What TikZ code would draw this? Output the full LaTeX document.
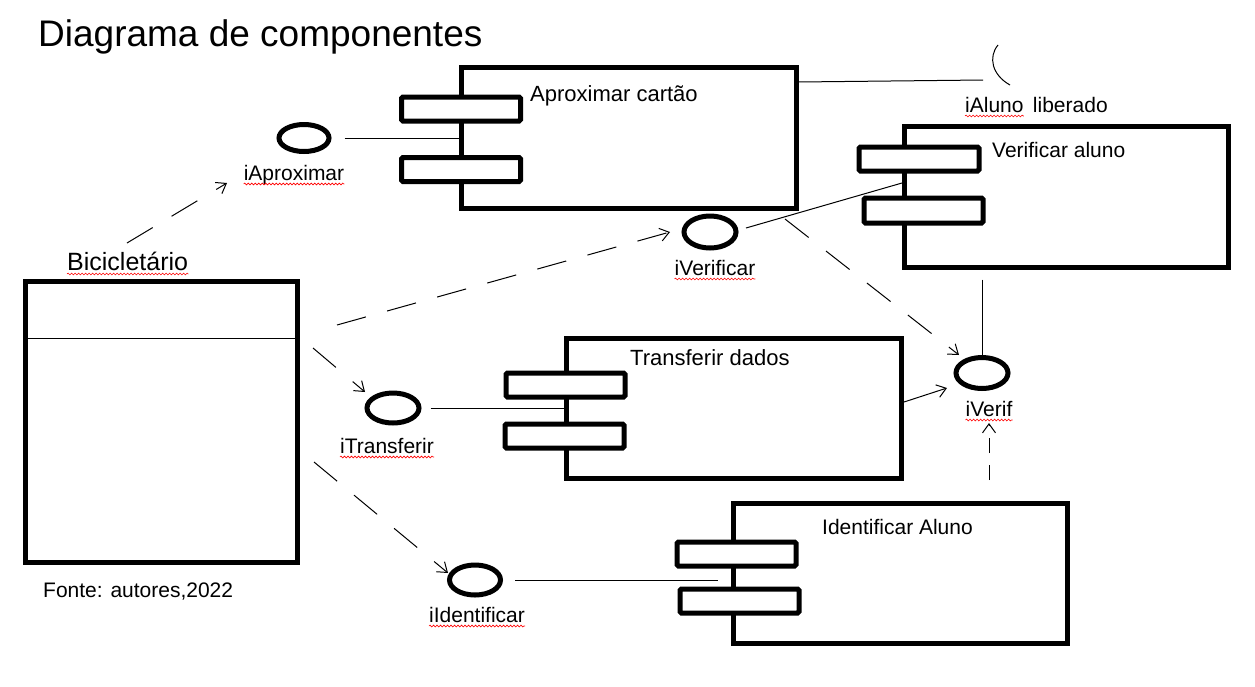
\documentclass[tikz,border=0pt]{standalone}
\usepackage{fontspec}
\setmainfont{Liberation Sans}
\usetikzlibrary{shapes.geometric,arrows.meta,decorations.pathmorphing}
\begin{document}
\begin{tikzpicture}[x=1pt,y=-1pt,
  compbox/.style={draw, line width=5pt, rectangle, inner sep=0pt},
  port/.style={draw, line width=5pt, rectangle, rounded corners=1.5pt, fill=white, inner sep=0pt, minimum width=119pt, minimum height=24pt},
  iface/.style={draw, line width=5pt, ellipse, inner sep=0pt},
  lbl/.style={inner sep=0pt, anchor=base, font=\fontsize{21}{25}\selectfont},
  comptext/.style={inner sep=0pt, anchor=base west, font=\fontsize{22}{26}\selectfont},
  conn/.style={line width=1pt},
  dep/.style={line width=1pt, dash pattern=on 30pt off 22pt, -{Straight Barb[length=9pt,width=13pt]}},
  solidarr/.style={line width=1pt, -{Straight Barb[length=9pt,width=13pt]}},
  spell/.style={draw=red, line width=0.6pt, decorate, decoration={snake, segment length=3.5pt, amplitude=0.9pt}}
]
\useasboundingbox (0,0) rectangle (1255,686);

% title
\node[anchor=base west, inner sep=0pt, font=\fontsize{37}{44}\selectfont] (title) at (38,46) {Diagrama de componentes};

% Bicicletario
\node[compbox, minimum width=272pt, minimum height=281pt] (bic) at (161.5,422) {};
\coordinate (sep) at (0,338);
\draw[conn] (bic.west |- sep) -- (bic.east |- sep);
\node[anchor=base west, inner sep=0pt, font=\fontsize{25}{30}\selectfont] (lBic) at (67,270) {Bicicletário};
\node[anchor=base west, inner sep=0pt, font=\fontsize{21}{25}\selectfont] (fonte) at (43,597) {Fonte: autores,2022};

% Aproximar cartao
\node[compbox, minimum width=335pt, minimum height=141pt] (apx) at (628.5,137.5) {};
\node[port] (apxP1) at (461,109) {};
\node[port] (apxP2) at (461,169.5) {};
\node[comptext] (apxT) at (530,101.5) {Aproximar cartão};

% Verificar aluno
\node[compbox, minimum width=324pt, minimum height=141pt] (ver) at (1066,196.5) {};
\node[port, minimum width=120pt] (verP1) at (919,159) {};
\node[port, minimum height=25pt] (verP2) at (923.5,210.5) {};
\node[comptext, font=\fontsize{21}{25}\selectfont] (verT) at (992,157) {Verificar aluno};

% Transferir dados
\node[compbox, minimum width=335pt, minimum height=140pt] (trf) at (733.5,408) {};
\node[port] (trfP1) at (565.5,385) {};
\node[port] (trfP2) at (564.5,436) {};
\node[comptext] (trfT) at (630,365) {Transferir dados};

% Identificar Aluno
\node[compbox, minimum width=334pt, minimum height=140pt] (idf) at (900,573) {};
\node[port] (idfP1) at (736.5,554) {};
\node[port] (idfP2) at (739.5,601) {};
\node[comptext, font=\fontsize{21}{25}\selectfont] (idfT) at (822,534) {Identificar Aluno};

% interfaces
\node[iface, minimum width=50pt, minimum height=27pt] (eA) at (304,138) {};
\node[iface, minimum width=52pt, minimum height=32pt] (eV) at (710,232) {};
\node[iface, minimum width=52pt, minimum height=30pt] (eT) at (393,408) {};
\node[iface, minimum width=51pt, minimum height=30pt] (eI) at (475,580) {};
\node[iface, minimum width=52pt, minimum height=31pt] (eVf) at (982,373) {};

\node[lbl] (lA) at (294,180) {iAproximar};
\node[lbl] (lV) at (715,275) {iVerificar};
\node[lbl] (lT) at (387,453) {iTransferir};
\node[lbl] (lI) at (477,622) {iIdentificar};
\node[lbl] (lVf) at (989,416) {iVerif};
\node[lbl, anchor=base west] (lAl) at (965,112) {iAluno};
\node[lbl, anchor=base west] (lLib) at ([xshift=9pt]lAl.base east) {liberado};

% spell-check underlines
\foreach \n in {lA,lV,lT,lI,lVf,lAl,lBic}
  \draw[spell] ([yshift=-4pt]\n.base west) -- ([yshift=-4pt]\n.base east);

% solid connectors
\draw[conn, shorten <=13pt] (eA) -- (eA -| apx.west);
\draw[conn, shorten <=9pt] (eT) -- (eT -| trf.west);
\draw[conn, shorten <=12pt, shorten >=13pt] (eI) -- (eI -| idf.west);
\coordinate (c9a) at (746,228);
\coordinate (c9b) at (902,183);
\draw[conn] (c9a) -- (c9b);
\draw[conn, shorten <=10pt] (eVf.north |- ver.south) -- (eVf.north);
\coordinate (c10a) at (798,82);
\coordinate (socT) at (998,45);
\coordinate (socB) at (1010,85);
\coordinate (c10b) at (983,80);
\draw[conn] (c10a) -- (c10b);
\draw[conn] (socT) .. controls (988,57) and (992,75) .. (socB);

% dependencies
\coordinate (d1s) at (127,243); \coordinate (d1e) at (227,183);
\draw[dep] (d1s) -- (d1e);
\coordinate (d2s) at (337,325); \coordinate (d2e) at (670,232);
\draw[dep] (d2s) -- (d2e);
\coordinate (d3s) at (313,348); \coordinate (d3e) at (365,392);
\draw[dep] (d3s) -- (d3e);
\coordinate (d4s) at (314,462); \coordinate (d4e) at (448,573);
\draw[dep] (d4s) -- (d4e);
\coordinate (d5s) at (785,219); \coordinate (d5e) at (959,355);
\draw[dep] (d5s) -- (d5e);
\coordinate (d6s) at (904,402); \coordinate (d6e) at (947,388);
\draw[solidarr] (d6s) -- (d6e);
\coordinate (d7s) at (989,480); \coordinate (d7e) at (989,423);
\draw[dep, dash pattern=on 15pt off 12pt] (d7s) -- (d7e);
\end{tikzpicture}
\end{document}
